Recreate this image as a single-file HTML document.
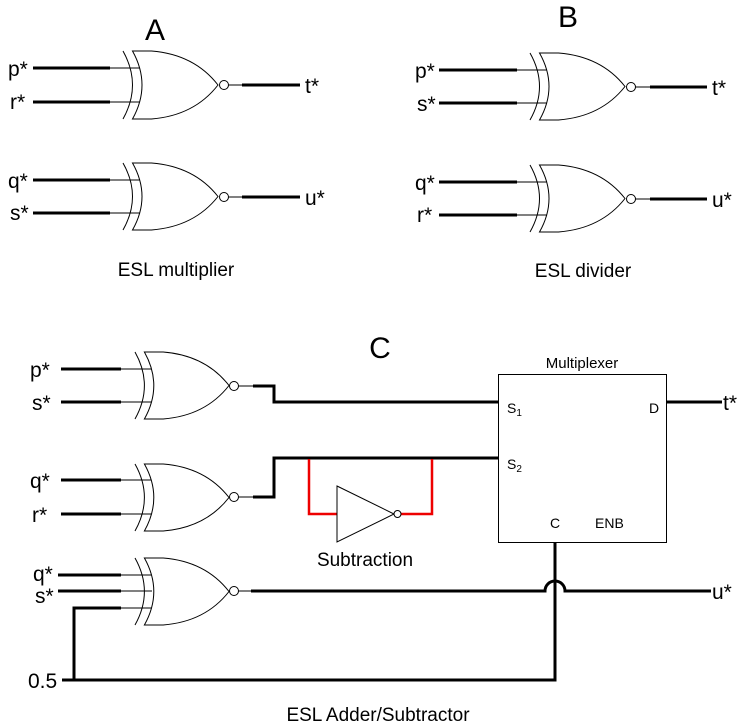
<!DOCTYPE html>
<html><head><meta charset="utf-8"><style>
html,body{margin:0;padding:0;background:#fff;}
svg{display:block;font-family:"Liberation Sans",sans-serif;}
</style></head><body>
<svg width="742" height="727" viewBox="0 0 742 727" xmlns="http://www.w3.org/2000/svg">
<defs>
<g id="g">
<path d="M0,0 Q20,50 0,100" fill="none" stroke="#000" stroke-width="1" vector-effect="non-scaling-stroke"/>
<path d="M10,0 L30,0 Q75,5 100,50 Q75,95 30,100 L10,100 Q30,50 10,0 Z" fill="#fff" stroke="#000" stroke-width="1" vector-effect="non-scaling-stroke"/>
</g>
</defs>
<g fill="#000">
<text x="155" y="40" font-size="30" text-anchor="middle">A</text>
<text x="568" y="27" font-size="30" text-anchor="middle">B</text>
<text x="380" y="358" font-size="30" text-anchor="middle">C</text>
<text x="176" y="276" font-size="19" text-anchor="middle">ESL multiplier</text>
<text x="583" y="277" font-size="19" text-anchor="middle">ESL divider</text>
<text x="365" y="566" font-size="19" text-anchor="middle">Subtraction</text>
<text x="378" y="721" font-size="19" text-anchor="middle">ESL Adder/Subtractor</text>
<text x="582" y="368" font-size="15" text-anchor="middle">Multiplexer</text>
<text x="507" y="413" font-size="14">S<tspan font-size="10" dy="3">1</tspan></text>
<text x="507" y="469" font-size="14">S<tspan font-size="10" dy="3">2</tspan></text>
<text x="649" y="413" font-size="14">D</text>
<text x="555" y="528" font-size="14" text-anchor="middle">C</text>
<text x="595" y="528" font-size="14">ENB</text>
</g>
<g font-size="21" fill="#000">
<text x="8" y="76">p*</text><text x="10" y="109">r*</text>
<text x="8" y="188">q*</text><text x="10" y="220">s*</text>
<text x="305" y="93">t*</text><text x="305" y="205">u*</text>
<text x="415" y="78">p*</text><text x="417" y="111">s*</text>
<text x="415" y="190">q*</text><text x="417" y="222">r*</text>
<text x="712" y="95">t*</text><text x="712" y="207">u*</text>
<text x="30" y="377">p*</text><text x="32" y="410">s*</text>
<text x="30" y="488">q*</text><text x="32" y="522">r*</text>
<text x="33" y="581">q*</text><text x="35" y="603">s*</text>
<text x="723" y="410">t*</text><text x="712" y="599">u*</text>
<text x="28" y="688">0.5</text>
</g>
<!-- thin input lines -->
<g stroke="#000" stroke-width="1">
<path d="M110,68H140M110,102H140M110,180H140M110,213H140"/>
<path d="M517,70H547M517,103H547M517,182H547M517,215H547"/>
<path d="M121,369H152M121,402H152M121,480H152M121,514H152M121,575H152M121,591H152M121,608H152"/>
<path d="M228,85H242M228,197H242M635,87H650M635,199H650M238,386H253M238,497H253M238,591H251"/>
</g>
<use href="#g" transform="translate(123,51) scale(0.95,0.68)"/>
<use href="#g" transform="translate(123,163) scale(0.95,0.67)"/>
<use href="#g" transform="translate(530,53) scale(0.95,0.67)"/>
<use href="#g" transform="translate(530,165) scale(0.95,0.67)"/>
<use href="#g" transform="translate(135,352) scale(0.94,0.67)"/>
<use href="#g" transform="translate(135,464) scale(0.94,0.67)"/>
<use href="#g" transform="translate(135,558) scale(0.94,0.67)"/>
<g fill="#fff" stroke="#000" stroke-width="1">
<circle cx="224" cy="85" r="4.5"/><circle cx="224" cy="197" r="4.5"/>
<circle cx="631" cy="87" r="4.5"/><circle cx="631" cy="199" r="4.5"/>
<circle cx="234" cy="386" r="4.5"/><circle cx="234" cy="497" r="4.5"/><circle cx="234" cy="591" r="4.5"/>
</g>
<!-- thick wires -->
<g stroke="#000" stroke-width="3" fill="none">
<path d="M33,68H110M33,102H110M33,180H110M33,213H110"/>
<path d="M242,85H300M242,197H300"/>
<path d="M439,70H517M439,103H517M439,182H517M439,215H517"/>
<path d="M650,87H707M650,199H707"/>
<path d="M61,369H121M61,402H121M61,480H121M61,514H121M58,575H121M58,591H121"/>
<path d="M121,608H74V680H555V542"/>
<path d="M62,680H74"/>
<path d="M253,386H274V402H499"/>
<path d="M253,497H274V458H499"/>
<path d="M666,402H722"/>
<path d="M251,591H545A10,10 0 0 1 565,591H711"/>
</g>
<!-- mux box -->
<rect x="498.5" y="374.5" width="168" height="168" fill="none" stroke="#000" stroke-width="1"/>
<!-- red subtraction -->
<g stroke="#e00" stroke-width="2.5" fill="none">
<path d="M309,459V514H337"/>
<path d="M401,514H432V459"/>
</g>
<path d="M337,486L394,514L337,542Z" fill="#fff" stroke="#000" stroke-width="1"/>
<circle cx="397.5" cy="514" r="3.5" fill="#fff" stroke="#000" stroke-width="1"/>
</svg>
</body></html>
